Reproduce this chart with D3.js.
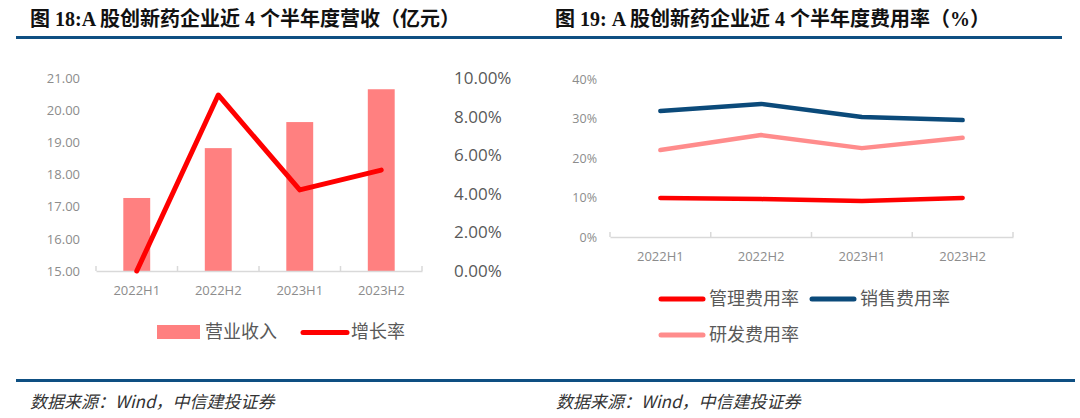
<!DOCTYPE html>
<html><head><meta charset="utf-8">
<script src="https://cdn.jsdelivr.net/npm/d3@7"></script>
<style>
html,body{margin:0;padding:0;background:#fff;}
svg{display:block;}
</style></head>
<body>
<svg id="c" width="1080" height="418"></svg>
<script>
// ---------- data ----------
const categories = ["2022H1", "2022H2", "2023H1", "2023H2"];
const revenue = [17.27, 18.82, 19.63, 20.65];          // 营业收入 (亿元)
const growth = [0.000, 0.0912, 0.042, 0.0523];          // 增长率
const revTicks = [15, 16, 17, 18, 19, 20, 21];
const growthTicks = [0, 0.02, 0.04, 0.06, 0.08, 0.10];
const mgmtRate = [0.099, 0.096, 0.091, 0.099];          // 管理费用率
const salesRate = [0.319, 0.337, 0.304, 0.296];         // 销售费用率
const rndRate = [0.220, 0.258, 0.225, 0.251];           // 研发费用率
const rateTicks = [0, 0.1, 0.2, 0.3, 0.4];
const title1 = "图 18:A 股创新药企业近 4 个半年度营收（亿元）";
const title2 = "图 19: A 股创新药企业近 4 个半年度费用率（%）";
const source = "数据来源：Wind，中信建投证券";

const svg = d3.select("#c");
const BLUE = "#0e4f82", BAR = "#ff8080", RED = "#ff0000", PINK = "#ff8c8c", NAVY = "#0b4a7a";
const numFont = "'Open Sans', sans-serif";
const cjk = "'Noto Sans CJK SC', sans-serif";

// ---------- titles & rules ----------
svg.append("text").attr("x", 30).attr("y", 26)
  .style("font-family", "'Liberation Serif', 'Noto Sans CJK SC', serif")
  .style("font-weight", "bold").style("font-size", "20px").attr("fill", "#111").text(title1);
svg.append("text").attr("x", 555).attr("y", 26)
  .style("font-family", "'Liberation Serif', 'Noto Sans CJK SC', serif")
  .style("font-weight", "bold").style("font-size", "20px").attr("fill", "#111").text(title2);
svg.append("line").attr("x1", 16).attr("x2", 1062).attr("y1", 37.5).attr("y2", 37.5)
  .attr("stroke", BLUE).attr("stroke-width", 3);
svg.append("line").attr("x1", 16).attr("x2", 1075).attr("y1", 380.5).attr("y2", 380.5)
  .attr("stroke", BLUE).attr("stroke-width", 3);
[30, 556].forEach(x => svg.append("text").attr("x", x).attr("y", 408)
  .style("font-family", cjk).style("font-style", "italic").style("font-size", "17px")
  .attr("fill", "#333").text(source));

// ---------- left chart ----------
const x1 = d3.scaleBand().domain(categories).range([96, 422]);
const yL = d3.scaleLinear().domain([15, 21]).range([271, 78]);
const yR = d3.scaleLinear().domain([0, 0.10]).range([271, 78]);
const g1 = svg.append("g");

// left axis labels
const axL = g1.append("g").attr("transform", "translate(80,0)")
  .call(d3.axisLeft(yL).tickValues(revTicks).tickFormat(d3.format(".2f")).tickSize(0).tickPadding(0));
axL.select(".domain").remove();
axL.selectAll("text").style("font-family", numFont).style("font-size", "13px").attr("fill", "#8c8c8c");

// right axis labels
const axR = g1.append("g").attr("transform", "translate(454,0)")
  .call(d3.axisRight(yR).tickValues(growthTicks).tickFormat(d3.format(".2%")).tickSize(0).tickPadding(0));
axR.select(".domain").remove();
axR.selectAll("text").style("font-family", numFont).style("font-size", "17px").attr("fill", "#595959");

// bars
const bw = x1.bandwidth() * 0.33;
g1.selectAll("rect.bar").data(revenue).join("rect").attr("class", "bar")
  .attr("x", (d, i) => x1(categories[i]) + (x1.bandwidth() - bw) / 2)
  .attr("width", bw)
  .attr("y", d => yL(d)).attr("height", d => yL(15) - yL(d))
  .attr("fill", BAR);

// x axis
const axX1 = g1.append("g").attr("transform", "translate(0,271)")
  .call(d3.axisBottom(x1).tickSize(0).tickPadding(15));
axX1.select(".domain").attr("stroke", "#d9d9d9").attr("stroke-width", 1.5);
axX1.selectAll("text").style("font-family", numFont).style("font-size", "13px").attr("fill", "#8c8c8c");
g1.selectAll("line.bt").data(d3.range(categories.length + 1)).join("line").attr("class", "bt")
  .attr("x1", i => 96 + i * x1.step()).attr("x2", i => 96 + i * x1.step())
  .attr("y1", 266).attr("y2", 271).attr("stroke", "#d9d9d9").attr("stroke-width", 1.5);

// growth line
g1.append("path").datum(growth)
  .attr("d", d3.line().x((d, i) => x1(categories[i]) + x1.bandwidth() / 2).y(d => yR(d)))
  .attr("fill", "none").attr("stroke", RED).attr("stroke-width", 5)
  .attr("stroke-linecap", "round").attr("stroke-linejoin", "round");

// legend left
g1.append("rect").attr("x", 157).attr("y", 325).attr("width", 43).attr("height", 14).attr("fill", BAR);
g1.append("text").attr("x", 205).attr("y", 338).style("font-family", cjk).style("font-size", "18px")
  .attr("fill", "#595959").text("营业收入");
g1.append("line").attr("x1", 303).attr("x2", 347).attr("y1", 332.5).attr("y2", 332.5)
  .attr("stroke", RED).attr("stroke-width", 5).attr("stroke-linecap", "round");
g1.append("text").attr("x", 351).attr("y", 338).style("font-family", cjk).style("font-size", "18px")
  .attr("fill", "#595959").text("增长率");

// ---------- right chart ----------
const x2 = d3.scaleBand().domain(categories).range([610, 1013]);
const y2 = d3.scaleLinear().domain([0, 0.40]).range([237, 79]);
const g2 = svg.append("g");

const ay2 = g2.append("g").attr("transform", "translate(597,0)")
  .call(d3.axisLeft(y2).tickValues(rateTicks).tickFormat(d3.format(".0%")).tickSize(0).tickPadding(0));
ay2.select(".domain").remove();
ay2.selectAll("text").style("font-family", numFont).style("font-size", "12.5px").attr("fill", "#8c8c8c");

const axX2 = g2.append("g").attr("transform", "translate(0,237)")
  .call(d3.axisBottom(x2).tickSize(0).tickPadding(15));
axX2.select(".domain").attr("stroke", "#d9d9d9").attr("stroke-width", 1.5);
axX2.selectAll("text").style("font-family", numFont).style("font-size", "13px").attr("fill", "#8c8c8c");
g2.selectAll("line.bt").data(d3.range(categories.length + 1)).join("line").attr("class", "bt")
  .attr("x1", i => 610 + i * x2.step()).attr("x2", i => 610 + i * x2.step())
  .attr("y1", 232).attr("y2", 237).attr("stroke", "#d9d9d9").attr("stroke-width", 1.5);

const series = [
  {name: "管理费用率", values: mgmtRate, color: RED},
  {name: "销售费用率", values: salesRate, color: NAVY},
  {name: "研发费用率", values: rndRate, color: PINK}
];
const line2 = d3.line().x((d, i) => x2(categories[i]) + x2.bandwidth() / 2).y(d => y2(d));
g2.selectAll("path.s").data(series).join("path").attr("class", "s")
  .attr("d", d => line2(d.values)).attr("fill", "none").attr("stroke", d => d.color)
  .attr("stroke-width", 4.5).attr("stroke-linecap", "round").attr("stroke-linejoin", "round");

// legend right
const legPos = [[660, 299], [811, 299], [660, 335]];
series.forEach((s, i) => {
  const [lx, ly] = legPos[i];
  g2.append("line").attr("x1", lx + 1).attr("x2", lx + 43).attr("y1", ly).attr("y2", ly)
    .attr("stroke", s.color).attr("stroke-width", 5).attr("stroke-linecap", "round");
  g2.append("text").attr("x", lx + 49).attr("y", ly + 6).style("font-family", cjk).style("font-size", "18px")
    .attr("fill", "#595959").text(s.name);
});
</script>
</body></html>
